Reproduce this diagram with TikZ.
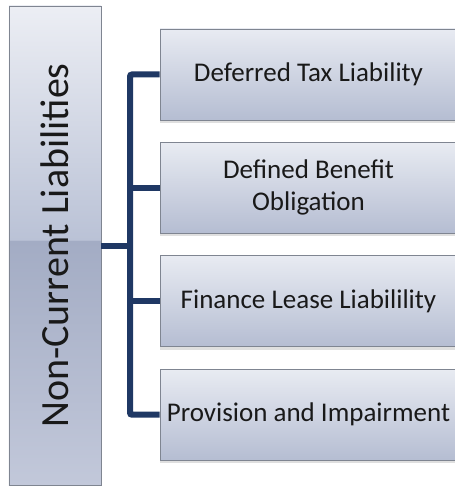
\documentclass[tikz,border=0pt]{standalone}
\usepackage{fontspec}
\setmainfont{Carlito}
\usetikzlibrary{shadows}

\definecolor{subtop}{HTML}{E8EBF2}
\definecolor{subbottom}{HTML}{B5BDD2}
\definecolor{maintop}{HTML}{ECEEF4}
\definecolor{mainmid}{HTML}{BAC2D6}
\definecolor{maindark}{HTML}{A3ACC4}
\definecolor{mainlow}{HTML}{C2C8DA}
\definecolor{boxline}{HTML}{7F8591}
\definecolor{linkblue}{HTML}{1F3864}

\pgfdeclareverticalshading{mainshade}{100bp}{color(0bp)=(mainlow); color(25bp)=(mainlow);
  color(50.5bp)=(maindark); color(50.6bp)=(mainmid); color(75bp)=(maintop); color(100bp)=(maintop)}

\tikzset{
  main box/.style={draw=boxline, line width=0.8bp, shading=mainshade,
    minimum width=92bp, minimum height=479bp, inner sep=0pt},
  sub box/.style={draw=boxline, line width=0.8bp, top color=subtop, bottom color=subbottom,
    minimum width=297bp, minimum height=91bp, inner sep=0pt, align=center,
    font=\fontsize{27bp}{32bp}\selectfont, text=black!90,
    drop shadow={opacity=0.25, shadow xshift=0bp, shadow yshift=-3bp}},
  link/.style={draw=linkblue, line width=6bp, rounded corners=2bp}
}

\begin{document}
\begin{tikzpicture}[x=1bp, y=-1bp]

\useasboundingbox (0,0) rectangle (455,486);

% define main box
\node [main box] (main) at (55,245.5) {};
\node [rotate=90, font=\fontsize{40bp}{48bp}\selectfont, text=black!90] (main-text) at (main.center) {Non-Current Liabilities};

% define sub boxes
\foreach \t [count=\i] in {Deferred Tax Liability, {Defined Benefit\\Obligation},
    Finance Lease Liabilility, Provision and Impairment}
  \node [sub box] (sub-\i) at (308.5,74.5+113.4*\i-113.4) {\t};

% connect main box to sub boxes
\coordinate (trunk) at (130,245.5);
\draw [link] (main.east) -- (trunk);
\draw [link] (sub-1.west) -| (trunk) |- (sub-4.west);
\foreach \i in {2,3}
  \draw [link] (trunk |- sub-\i.west) -- (sub-\i.west);

\end{tikzpicture}
\end{document}
